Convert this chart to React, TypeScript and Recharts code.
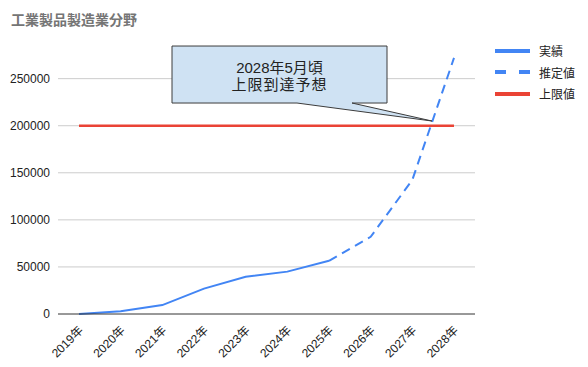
import React from "react";
import {
  LineChart,
  Line,
  XAxis,
  YAxis,
  ReferenceLine,
  ReferenceDot,
} from "recharts";

const FONT = "Arial, 'Liberation Sans', 'Noto Sans CJK JP', sans-serif";

const years = ["2019年", "2020年", "2021年", "2022年", "2023年", "2024年", "2025年", "2026年", "2027年", "2028年"];
const actual = [0, 3000, 9500, 27000, 39500, 45000, 56500, null, null, null];
const estimate = [null, null, null, null, null, null, 56500, 82000, 142500, 272000];
const limit = [200000, 200000, 200000, 200000, 200000, 200000, 200000, 200000, 200000, 200000];
const yTicks = [0, 50000, 100000, 150000, 200000, 250000];

const data = years.map((y, i) => ({
  year: y,
  actual: actual[i],
  estimate: estimate[i],
  limit: limit[i],
}));

const legendItems = [
  { name: "実績", color: "#4285f4", dash: false },
  { name: "推定値", color: "#4285f4", dash: true },
  { name: "上限値", color: "#ea4335", dash: false },
];

function XTick(props: any) {
  const { x, y, payload } = props;
  const tx = x + 5;
  const ty = y + 9;
  return (
    <text
      x={tx}
      y={ty}
      transform={`rotate(-45, ${tx}, ${ty})`}
      textAnchor="end"
      fontSize={12}
      fill="#222"
      fontFamily={FONT}
    >
      {payload.value}
    </text>
  );
}

function ChartLegend() {
  return (
    <div
      style={{
        position: "absolute",
        left: 495,
        top: 40,
        fontFamily: FONT,
        fontSize: 12,
        color: "#222",
      }}
    >
      {legendItems.map((it) => (
        <div key={it.name} style={{ display: "flex", alignItems: "center", height: 21.5 }}>
          <svg width={36} height={6} style={{ marginRight: 8 }}>
            <line
              x1={0}
              y1={3}
              x2={35}
              y2={3}
              stroke={it.color}
              strokeWidth={4}
              strokeDasharray={it.dash ? "11 13" : undefined}
            />
          </svg>
          <span>{it.name}</span>
        </div>
      ))}
    </div>
  );
}

function Callout(props: any) {
  const { cx, cy } = props;
  const tx = cx - 22;
  const ty = cy;
  const l = tx - 260;
  const r = tx - 45;
  const t = ty - 75;
  const b = ty - 18;
  const path = `M${l},${t} L${r},${t} L${r},${b} L${tx - 80},${b} L${tx},${ty} L${tx - 135},${b} L${l},${b} Z`;
  const mid = (l + r) / 2;
  return (
    <g>
      <path d={path} fill="#cfe2f3" stroke="#3c3c3c" strokeWidth={1} />
      <text x={mid} y={t + 27} textAnchor="middle" fontSize={15} fill="#222" fontFamily={FONT}>
        2028年5月頃
      </text>
      <text x={mid} y={t + 44} textAnchor="middle" fontSize={15} fill="#222" fontFamily={FONT} letterSpacing={1}>
        上限到達予想
      </text>
    </g>
  );
}

export default function App() {
  return (
    <div style={{ position: "absolute", left: 0, top: 0, width: 588, height: 367, background: "#fff" }}>
      <div
        style={{
          position: "absolute",
          left: 11,
          top: 9,
          fontFamily: FONT,
          fontSize: 14,
          fontWeight: "bold",
          color: "#757575",
        }}
      >
        工業製品製造業分野
      </div>
      <ChartLegend />
      <LineChart
        width={588}
        height={367}
        data={data}
        margin={{ top: 41, right: 113, left: 0, bottom: 0 }}
      >
        {yTicks.slice(1).map((t) => (
          <ReferenceLine key={t} y={t} stroke="#cccccc" />
        ))}
        <XAxis
          dataKey="year"
          height={53}
          tickLine={false}
          axisLine={{ stroke: "#333" }}
          tick={<XTick />}
          interval={0}
          padding={{ left: 21, right: 21 }}
        />
        <YAxis
          width={58}
          domain={[0, 290000]}
          ticks={yTicks}
          tickLine={false}
          axisLine={false}
          tick={{ fontSize: 12, fill: "#222", fontFamily: FONT }}
        />
        <Line
          dataKey="limit"
          name="上限値"
          stroke="#ea4335"
          strokeWidth={2.5}
          dot={false}
          isAnimationActive={false}
        />
        <Line
          dataKey="actual"
          name="実績"
          stroke="#4285f4"
          strokeWidth={2}
          dot={false}
          isAnimationActive={false}
        />
        <Line
          dataKey="estimate"
          name="推定値"
          stroke="#4285f4"
          strokeWidth={2}
          strokeDasharray="9 6"
          dot={false}
          isAnimationActive={false}
        />
        <ReferenceDot x="2028年" y={205000} r={0} shape={<Callout />} />
      </LineChart>
    </div>
  );
}
